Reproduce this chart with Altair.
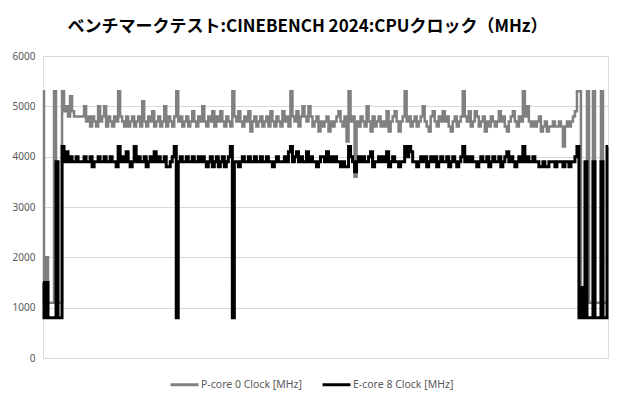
import altair as alt
import pandas as pd

series_names = ["P-core 0 Clock [MHz]", "E-core 8 Clock [MHz]"]
y_ticks = [0, 1000, 2000, 3000, 4000, 5000, 6000]

p_core = [
    5300, 1100, 2000, 1100, 1100, 1100, 5300, 1100, 1100, 1100,
    5300, 4900, 5000, 4800, 5200, 4900, 4800, 4800, 4800, 4800,
    4800, 5000, 4700, 4800, 4600, 4800, 4700, 4600, 5000, 4700,
    4800, 5000, 4600, 4800, 4700, 4600, 4800, 4700, 5300, 4800,
    4700, 4600, 4800, 4600, 4700, 4800, 4600, 4700, 4800, 4600,
    5100, 4700, 4600, 4800, 4700, 4900, 4600, 4700, 4800, 4600,
    4700, 5000, 4600, 4800, 4700, 4600, 4800, 5300, 4700, 4800,
    4600, 4700, 4800, 4600, 4700, 4900, 4700, 4600, 4800, 4700,
    5000, 4700, 4600, 4800, 4700, 4900, 4600, 4800, 4700, 4900,
    4700, 4600, 4800, 4700, 4600, 5300, 4800, 4700, 4900, 4700,
    4600, 4800, 4700, 4900, 4500, 4700, 4800, 4600, 4700, 4800,
    4600, 4700, 4800, 4600, 4900, 4700, 4600, 4800, 4700, 4600,
    4900, 4700, 4800, 4600, 5300, 4800, 4700, 4900, 4600, 4800,
    5000, 4800, 4700, 5000, 4800, 4600, 4700, 4800, 4500, 4700,
    4600, 4700, 4800, 4500, 4700, 4600, 4700, 4800, 4900, 4700,
    4600, 4800, 4300, 5300, 4700, 4800, 3600, 4700, 4600, 4800,
    4700, 4600, 5000, 4700, 4500, 4800, 4600, 4700, 4800, 4600,
    4700, 4600, 4900, 4500, 4700, 4800, 4900, 4700, 4500, 4700,
    4800, 5300, 4700, 4800, 4600, 4700, 4800, 4600, 4700, 4800,
    5000, 4700, 4600, 4500, 4800, 4900, 4700, 4600, 4800, 4700,
    4900, 4700, 4800, 4600, 4500, 4700, 4800, 4600, 4700, 4800,
    5300, 4800, 4700, 4900, 4600, 4700, 4900, 4800, 4600, 4700,
    4800, 4500, 4700, 4600, 4800, 4700, 4600, 4700, 4900, 4700,
    4800, 4600, 4500, 4700, 4800, 4900, 4700, 4600, 4800, 4700,
    5300, 4800, 5000, 4700, 4600, 4700, 4600, 4700, 4800, 4500,
    4600, 4700, 4500, 4600, 4600, 4700, 4600, 4600, 4700, 4600,
    4200, 4600, 4700, 4600, 4700, 4800, 4900,
    5300, 5300, 1100, 1100, 1100, 5300, 1100, 1100, 5300, 1100,
    1100, 1100, 5300, 1100, 1100, 1100,
]

e_core = [
    1500, 800, 1500, 800, 800, 800, 800, 3900, 800, 800,
    4200, 3900, 4100, 3900, 4000, 3900, 3900, 4000, 3900, 3900,
    3900, 4000, 3900, 3900, 4000, 3800, 3900, 3900, 4000, 3900,
    3900, 4000, 3900, 3900, 4000, 3900, 3900, 3800, 4200, 3900,
    4000, 3900, 4100, 3900, 3800, 3900, 4200, 3900, 4000, 3900,
    3900, 4000, 3800, 3900, 4000, 3900, 4100, 3900, 4000, 3900,
    3900, 4000, 3800, 3800, 3900, 4000, 4200, 800, 3900, 4000,
    3900, 3900, 4000, 3900, 3900, 4000, 3900, 3900, 4000, 3900,
    4000, 3900, 3800, 3900, 4000, 3800, 3900, 4000, 3800, 3900,
    4000, 3800, 3900, 4000, 4200, 800, 3900, 3900, 3800, 3900,
    4000, 3900, 3900, 4000, 3900, 3900, 4000, 3900, 3900, 4000,
    3900, 3900, 4000, 3900, 3900, 3800, 3900, 4000, 3900, 3900,
    3900, 4000, 3900, 4100, 4200, 3900, 4000, 4100, 3900, 4000,
    3900, 3900, 4100, 3900, 4000, 3900, 3900, 3800, 3900, 4000,
    4000, 3900, 4100, 3900, 4000, 3900, 4000, 3900, 3900, 3800,
    3900, 3800, 3800, 4200, 4000, 3900, 3700, 3900, 4000, 3900,
    4000, 3900, 3900, 4000, 4100, 3800, 3900, 3900, 4000, 3900,
    4000, 3900, 4100, 3800, 3900, 4000, 3900, 3900, 3800, 3900,
    3900, 4200, 4000, 4200, 4100, 3900, 3900, 3800, 3900, 4000,
    3900, 4000, 3800, 3900, 4000, 3900, 4000, 3800, 3900, 4000,
    3900, 3900, 4000, 3800, 3900, 4000, 3900, 3800, 3900, 4000,
    4200, 3900, 4000, 3900, 4000, 3900, 3900, 3800, 3900, 4000,
    3900, 3900, 4000, 3800, 3900, 4000, 3900, 3900, 4000, 3800,
    3900, 4000, 4100, 3900, 4000, 3900, 3800, 3900, 4000, 3900,
    4200, 3900, 4000, 3900, 3900, 4000, 3900, 3900, 3800, 3800,
    3900, 3800, 3800, 3900, 3900, 3900, 3800, 3900, 3900, 3900,
    3800, 3900, 3900, 3800, 3900, 3900, 4000,
    4200, 800, 1400, 800, 3900, 800, 800, 800, 3900, 800,
    800, 800, 3900, 800, 800, 4200,
]

n = len(p_core)
df = pd.DataFrame({
    "t": list(range(n)) * 2,
    "clock": p_core + e_core,
    "series": [series_names[0]] * n + [series_names[1]] * len(e_core),
})

color_scale = alt.Scale(domain=series_names, range=["#808080", "#000000"])
x_enc = alt.X("t:Q", axis=None, scale=alt.Scale(domain=[0, n - 1], nice=False, zero=False))
y_enc = alt.Y(
    "clock:Q",
    scale=alt.Scale(domain=[0, 6000], nice=False),
    axis=alt.Axis(
        values=y_ticks, title=None, ticks=False, domain=False, format="d",
        labelPadding=8, labelColor="#595959", labelFontSize=10,
        labelFont="Noto Sans", gridColor="#d9d9d9", gridWidth=1,
    ),
)
color_enc = alt.Color(
    "series:N", scale=color_scale, sort=series_names,
    legend=alt.Legend(
        title=None, orient="none", direction="horizontal",
        legendX=126, legendY=313, symbolType="stroke",
        symbolStrokeWidth=3, symbolSize=780, labelFontSize=10.5,
        labelFont="Noto Sans", labelColor="#595959", columnPadding=14,
        labelOffset=1,
    ),
)

p_line = alt.Chart(df).transform_filter(
    alt.datum.series == series_names[0]
).mark_line(strokeWidth=2.5, interpolate="step").encode(
    x=x_enc, y=y_enc, color=color_enc
)
e_line = alt.Chart(df).transform_filter(
    alt.datum.series == series_names[1]
).mark_line(strokeWidth=3, interpolate="step").encode(
    x=x_enc, y=y_enc, color=color_enc
)

chart = alt.layer(p_line, e_line).properties(
    width=565,
    height=302,
    autosize=alt.AutoSizeParams(type="none"),
    padding={"left": 35, "top": 48, "right": 4, "bottom": 40},
    title=alt.TitleParams(
        "ベンチマークテスト:CINEBENCH 2024:CPUクロック（MHz）",
        font="Noto Sans CJK JP", fontSize=17, fontWeight="bold",
        color="#000000", anchor="middle", offset=15, dx=-18,
    ),
).configure_view(stroke=None).configure(background="white")

chart.save("out.html", embed_options={"renderer": "svg", "actions": False})
